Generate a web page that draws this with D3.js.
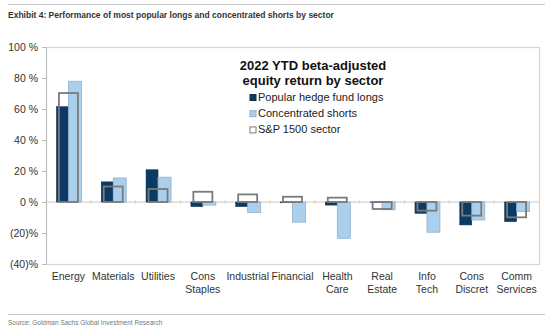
<!DOCTYPE html>
<html>
<head>
<meta charset="utf-8">
<script src="https://cdnjs.cloudflare.com/ajax/libs/d3/7.8.5/d3.min.js"></script>
<style>
  body { margin: 0; background: #fff; }
  text { font-family: "Liberation Sans", Arial, sans-serif; }
</style>
</head>
<body>
<div id="chart"></div>
<script>
// sector labels (split on "\n" for two-line ticks)
var sectors = ["Energy", "Materials", "Utilities", "Cons\nStaples", "Industrial", "Financial",
               "Health\nCare", "Real\nEstate", "Info\nTech", "Cons\nDiscret", "Comm\nServices"];
var longs   = [61.5, 13, 20.8, -3, -3, -0.5, -2, -0.3, -7.3, -14.8, -12.7];
var shorts  = [77.9, 15.5, 16, -2, -6.7, -13, -23.4, -5, -19.5, -11.6, -6.2];
var sp1500  = [70.3, 10, 8.4, 6.6, 4.9, 3.4, 2.8, -4.5, -5.6, -8.8, -9.9];
var yTicks  = [100, 80, 60, 40, 20, 0, -20, -40];
var legendNames = ["Popular hedge fund longs", "Concentrated shorts", "S&P 1500 sector"];

var W = 545, H = 336;
var margin = { top: 47, right: 6, bottom: 72, left: 46 },
    width = W - margin.left - margin.right,
    height = H - margin.top - margin.bottom;

var root = d3.select("#chart").append("svg")
    .attr("width", W)
    .attr("height", H);

// header rule + exhibit title
root.append("line").attr("x1", 8).attr("x2", W).attr("y1", 4.5).attr("y2", 4.5)
    .attr("stroke", "#c8c8c8").attr("stroke-width", 1);
root.append("text")
    .attr("x", 8).attr("y", 18)
    .style("font-family", "'Liberation Sans Narrow', 'Arial Narrow', sans-serif")
    .style("font-weight", "bold").style("font-size", "8.5px").attr("fill", "#333")
    .text("Exhibit 4: Performance of most popular longs and concentrated shorts by sector");

// footer rule + source
root.append("line").attr("x1", 8).attr("x2", W).attr("y1", 314.5).attr("y2", 314.5)
    .attr("stroke", "#c8c8c8").attr("stroke-width", 1);
root.append("text")
    .attr("x", 8).attr("y", 325)
    .style("font-family", "'Liberation Sans Narrow', 'Arial Narrow', sans-serif")
    .style("font-size", "6.5px").attr("fill", "#777")
    .text("Source: Goldman Sachs Global Investment Research");

var svg = root.append("g")
    .attr("transform", "translate(" + margin.left + "," + margin.top + ")");

var x = d3.scaleBand().domain(d3.range(sectors.length)).range([0, width]);
var y = d3.scaleLinear().domain([-40, 100]).range([height, 0]);

// plot area frame
svg.append("rect")
    .attr("x", 0.5).attr("y", 0.5).attr("width", width).attr("height", height)
    .attr("fill", "none").attr("stroke", "#d4d4d4").attr("stroke-width", 1.2);

// y axis
var yAxis = svg.append("g")
    .call(d3.axisLeft(y).tickValues(yTicks).tickSize(4).tickPadding(4)
        .tickFormat(function (d) { return d < 0 ? "(" + Math.abs(d) + ")%" : d + " %"; }));
yAxis.select(".domain").attr("stroke", "#bbb");
yAxis.selectAll(".tick line").attr("stroke", "#bbb");
yAxis.selectAll("text").style("font-size", "10.5px").attr("fill", "#333");

// zero line with category ticks
svg.append("line")
    .attr("x1", 0).attr("x2", width).attr("y1", y(0)).attr("y2", y(0))
    .attr("stroke", "#c8c8c8").attr("stroke-width", 1);
svg.selectAll(".ztick").data(d3.range(1, sectors.length)).enter().append("line")
    .attr("x1", function (i) { return x(i); }).attr("x2", function (i) { return x(i); })
    .attr("y1", y(0) - 1.5).attr("y2", y(0) + 1.5)
    .attr("stroke", "#e0c9a0");

var dW = 12, lW = 13, hW = 19;
function cx(i) { return x(i) + x.bandwidth() / 2; }
function by(v) { return Math.min(y(v), y(0)); }
function bh(v) { return Math.abs(y(v) - y(0)); }

svg.selectAll(".long").data(longs).enter().append("rect")
    .attr("x", function (d, i) { return cx(i) - dW; })
    .attr("y", function (d) { return by(d); })
    .attr("width", dW).attr("height", function (d) { return bh(d); })
    .attr("fill", "#0d3a64").attr("stroke", "#0a2e50").attr("stroke-width", 0.5);

svg.selectAll(".short").data(shorts).enter().append("rect")
    .attr("x", function (d, i) { return cx(i); })
    .attr("y", function (d) { return by(d); })
    .attr("width", lW).attr("height", function (d) { return bh(d); })
    .attr("fill", "#abd0ee").attr("stroke", "#8eb0cc").attr("stroke-width", 0.8);

svg.selectAll(".sp").data(sp1500).enter().append("rect")
    .attr("x", function (d, i) { return cx(i) - hW / 2; })
    .attr("y", function (d) { return by(d); })
    .attr("width", hW).attr("height", function (d) { return bh(d); })
    .attr("fill", "none").attr("stroke", "#7a7a7a").attr("stroke-width", 1.8);

// category labels
var lab = svg.selectAll(".lab").data(sectors).enter().append("text")
    .attr("text-anchor", "middle")
    .attr("transform", function (d, i) { return "translate(" + cx(i) + "," + (height + 16) + ")"; })
    .style("font-size", "10.5px").attr("fill", "#333");
lab.selectAll("tspan").data(function (d) { return d.split("\n"); }).enter().append("tspan")
    .attr("x", 0).attr("dy", function (d, j) { return j === 0 ? 0 : 12.5; })
    .text(function (d) { return d; });

// chart title and legend
var tg = root.append("g");
tg.append("text").attr("x", 313).attr("y", 70).attr("text-anchor", "middle")
    .style("font-weight", "bold").style("font-size", "13px").attr("fill", "#111")
    .text("2022 YTD beta-adjusted");
tg.append("text").attr("x", 313).attr("y", 85).attr("text-anchor", "middle")
    .style("font-weight", "bold").style("font-size", "13px").attr("fill", "#111")
    .text("equity return by sector");

var lStyles = [
    { fill: "#0d3a64", stroke: "#0a2e50" },
    { fill: "#abd0ee", stroke: "#8eb0cc" },
    { fill: "#fff", stroke: "#7a7a7a" }
];
var leg = tg.selectAll(".leg").data(legendNames).enter().append("g")
    .attr("transform", function (d, i) { return "translate(250," + (101 + i * 16.2) + ")"; });
leg.append("rect").attr("x", 0).attr("y", -6.5).attr("width", 6).attr("height", 6)
    .attr("fill", function (d, i) { return lStyles[i].fill; })
    .attr("stroke", function (d, i) { return lStyles[i].stroke; }).attr("stroke-width", 1);
leg.append("text").attr("x", 8).attr("y", 0)
    .style("font-size", "11px").attr("fill", "#222")
    .text(function (d) { return d; });
</script>
</body>
</html>
